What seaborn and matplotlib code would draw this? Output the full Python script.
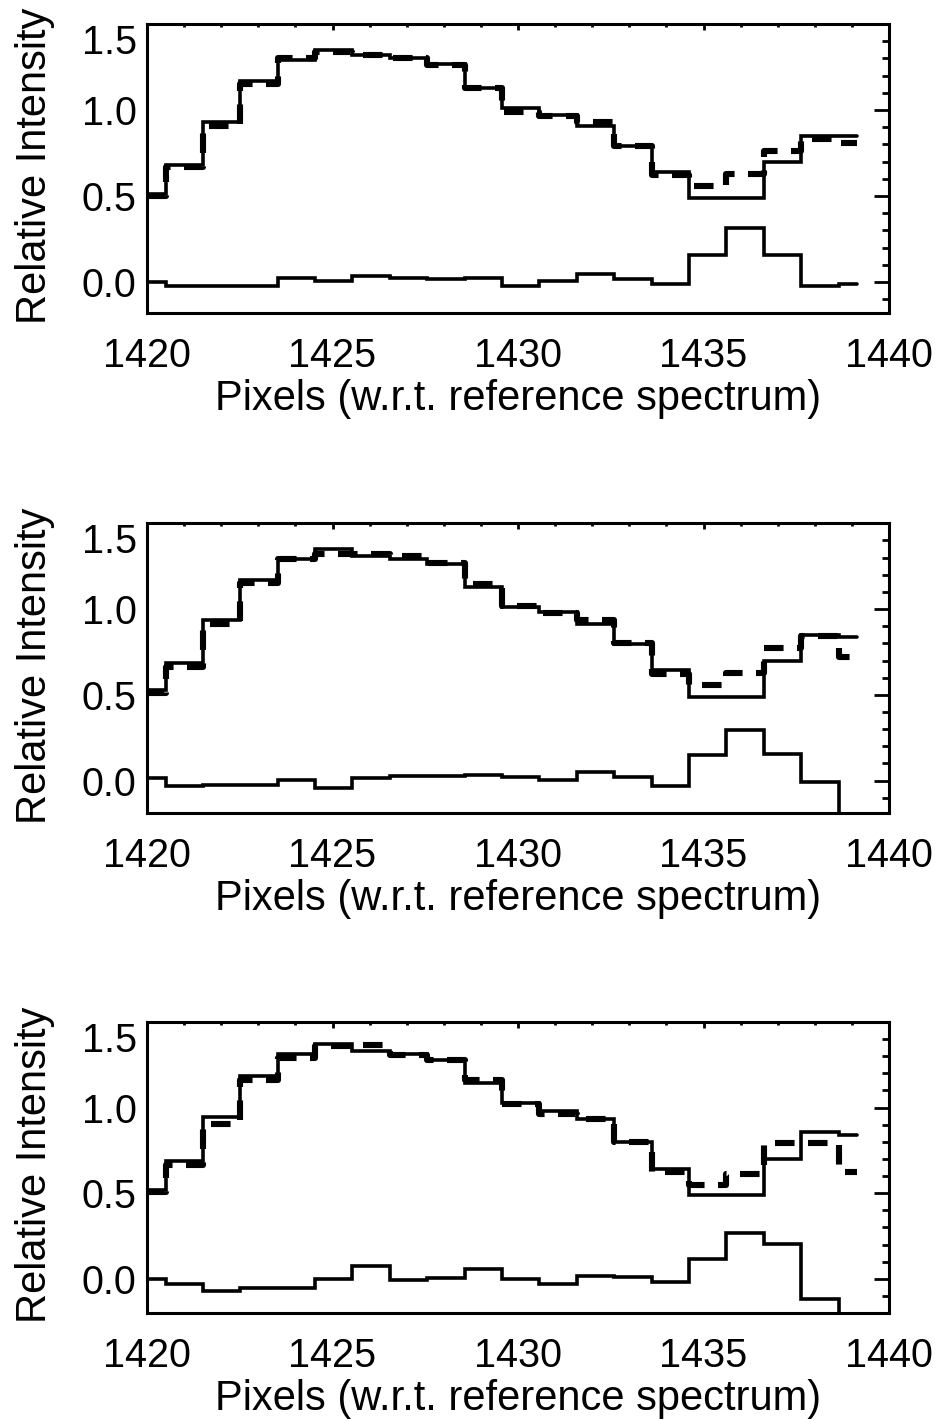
import matplotlib
matplotlib.use("Agg")
import matplotlib.pyplot as plt
from matplotlib.ticker import MultipleLocator
import pandas as pd
import seaborn as sns

# Pixel positions of the spectrum samples (shifted onto the reference grid)
pixels = [1420.00, 1421.00, 1422.01, 1423.02, 1424.03, 1425.03, 1426.04, 1427.05,
          1428.06, 1429.07, 1430.07, 1431.08, 1432.09, 1433.10, 1434.10, 1435.11,
          1436.12, 1437.13, 1438.14, 1439.14]

# Panel 1
observed_1 = [0.51, 0.68, 0.93, 1.17, 1.29, 1.35, 1.32, 1.30, 1.27, 1.13,
              1.01, 0.97, 0.91, 0.79, 0.64, 0.49, 0.49, 0.70, 0.85, 0.85]
reference_1 = [0.50, 0.67, 0.91, 1.15, 1.30, 1.34, 1.32, 1.30, 1.26, 1.13,
               0.99, 0.965, 0.93, 0.79, 0.62, 0.56, 0.63, 0.76, 0.83, 0.81]
residual_1 = [0.0, -0.025, -0.02, -0.02, 0.025, 0.005, 0.033, 0.025, 0.02, 0.022,
              -0.02, 0.005, 0.045, 0.015, -0.013, 0.155, 0.315, 0.158, -0.02, -0.013]

# Panel 2
observed_2 = [0.53, 0.685, 0.935, 1.17, 1.29, 1.35, 1.31, 1.29, 1.265, 1.13,
              1.01, 0.98, 0.915, 0.795, 0.645, 0.49, 0.49, 0.70, 0.85, 0.835]
reference_2 = [0.51, 0.665, 0.91, 1.15, 1.29, 1.32, 1.32, 1.31, 1.27, 1.145,
               1.02, 0.975, 0.935, 0.80, 0.62, 0.56, 0.63, 0.775, 0.84, 0.72]
residual_2 = [0.015, -0.033, -0.023, -0.023, 0.002, -0.042, 0.015, 0.025, 0.025, 0.031,
              0.02, 0.006, 0.05, 0.021, -0.033, 0.15, 0.295, 0.156, -0.01, -0.30]

# Panel 3
observed_3 = [0.52, 0.69, 0.945, 1.185, 1.315, 1.37, 1.33, 1.315, 1.28, 1.145,
              1.025, 0.978, 0.932, 0.80, 0.643, 0.49, 0.49, 0.70, 0.86, 0.84]
reference_3 = [0.507, 0.667, 0.906, 1.16, 1.287, 1.36, 1.364, 1.306, 1.277, 1.16,
               1.02, 0.965, 0.932, 0.80, 0.624, 0.546, 0.614, 0.795, 0.795, 0.625]
residual_3 = [-0.004, -0.03, -0.074, -0.055, -0.055, -0.004, 0.072, -0.01, 0.004, 0.058,
              -0.002, -0.03, 0.015, 0.01, -0.016, 0.117, 0.269, 0.202, -0.121, -0.35]

panels = [(observed_1, reference_1, residual_1),
          (observed_2, reference_2, residual_2),
          (observed_3, reference_3, residual_3)]
y_lower = [-0.18, -0.19, -0.20]
y_upper = 1.5
x_range = (1420, 1440)
x_ticks = [1420, 1425, 1430, 1435, 1440]
y_ticks = [0.0, 0.5, 1.0, 1.5]
x_title = "Pixels (w.r.t. reference spectrum)"
y_title = "Relative Intensity"

sns.set_style("white")
plt.rcParams["font.family"] = ["Liberation Sans", "DejaVu Sans"]
plt.rcParams.update({"text.color": "black", "axes.labelcolor": "black",
                     "xtick.color": "black", "ytick.color": "black",
                     "axes.edgecolor": "black"})

fig = plt.figure(figsize=(9.45, 14.21), dpi=100)

# axes rectangles in figure fractions: left, bottom, width, height
boxes = [(0.1556, 0.7797, 0.7852, 0.2034),
         (0.1556, 0.4277, 0.7852, 0.2041),
         (0.1556, 0.0760, 0.7852, 0.2048)]

for (obs, ref, res), box, ylo in zip(panels, boxes, y_lower):
    ax = fig.add_axes(box)
    df = pd.DataFrame({"pixel": pixels, "observed": obs,
                       "reference": ref, "residual": res})
    common = dict(data=df, x="pixel", ax=ax, color="black",
                  drawstyle="steps-mid", estimator=None, errorbar=None)
    sns.lineplot(y="observed", lw=2.6, solid_joinstyle="miter", **common)
    sns.lineplot(y="reference", lw=4.4, linestyle=(0, (3.2, 2.2)),
                 dash_capstyle="butt", **common)
    sns.lineplot(y="residual", lw=2.6, solid_joinstyle="miter", **common)

    ax.set_xlim(*x_range)
    ax.set_ylim(ylo, y_upper)
    ax.set_xticks(x_ticks)
    ax.set_yticks(y_ticks)
    ax.set_xticklabels([str(t) for t in x_ticks])
    ax.set_yticklabels([f"{t:.1f}" for t in y_ticks])
    ax.xaxis.set_minor_locator(MultipleLocator(1))
    ax.yaxis.set_minor_locator(MultipleLocator(0.1))

    for side in ax.spines.values():
        side.set_visible(True)
        side.set_linewidth(2.2)
        side.set_color("black")

    ax.tick_params(which="both", direction="in", top=True, right=True,
                   width=2.0, color="black", labelcolor="black")
    ax.tick_params(axis="x", which="major", length=4.2, pad=17, labelsize=28.5)
    ax.tick_params(axis="x", which="minor", length=2.1)
    ax.tick_params(axis="y", which="major", length=10.7, pad=7.5, labelsize=28.5)
    ax.tick_params(axis="y", which="minor", length=5.3)
    ax.yaxis.get_major_ticks()[-1].label1.set_verticalalignment("top")

    ax.set_xlabel(x_title, fontsize=30, color="black")
    ax.set_ylabel(y_title, fontsize=30, color="black")
    ax.xaxis.set_label_coords(0.5, -0.228)
    ax.yaxis.set_label_coords(-0.124, 0.51)

fig.savefig("out.png", dpi=100, facecolor="white")
